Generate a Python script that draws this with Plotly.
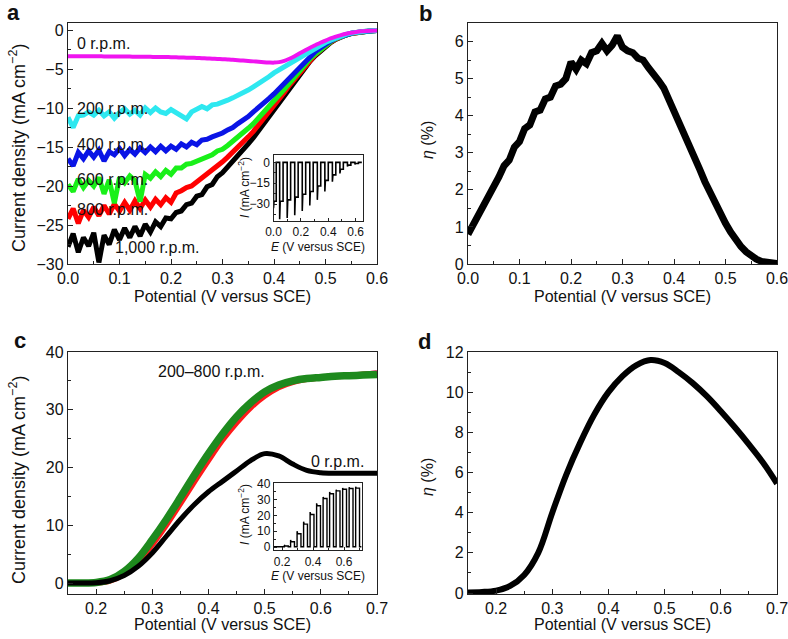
import plotly.graph_objects as go

# ---- panel a: LSV at different rotation rates (V vs SCE, mA cm-2) ----
potential_a = [round(0.01 * i, 2) for i in range(61)]

j_a_0rpm = [-3.35, -3.35, -3.35, -3.36, -3.36, -3.37, -3.37, -3.38, -3.38, -3.39,
            -3.40, -3.40, -3.41, -3.42, -3.42, -3.43, -3.44, -3.45, -3.46, -3.47,
            -3.48, -3.50, -3.52, -3.54, -3.56, -3.58, -3.61, -3.64, -3.67, -3.70,
            -3.74, -3.78, -3.82, -3.87, -3.92, -3.97, -4.02, -4.07, -4.12, -4.16,
            -4.18, -4.12, -3.95, -3.68, -3.35, -2.98, -2.62, -2.27, -1.95, -1.63,
            -1.35, -1.08, -0.85, -0.65, -0.48, -0.35, -0.25, -0.17, -0.12, -0.08, -0.06]
j_a_200rpm = [-11.2, -12.5, -11.0, -10.9, -10.5, -10.9, -10.3, -11.0, -10.5, -11.3,
              -10.6, -10.1, -10.8, -10.3, -10.9, -10.0, -10.6, -10.0, -10.5, -10.7,
              -10.2, -10.6, -10.9, -11.4, -10.5, -10.2, -9.8, -10.1, -9.6, -9.5,
              -9.3, -9.0, -8.7, -8.4, -8.1, -7.7, -7.3, -6.9, -6.5, -6.0,
              -5.5, -5.1, -4.7, -4.3, -3.9, -3.5, -3.1, -2.7, -2.3, -2.0,
              -1.6, -1.3, -1.0, -0.75, -0.55, -0.4, -0.28, -0.2, -0.14, -0.1, -0.07]
j_a_400rpm = [-16.5, -17.4, -15.7, -16.5, -15.5, -16.3, -15.4, -16.8, -15.6, -16.0,
              -15.2, -16.1, -15.3, -15.9, -15.1, -15.7, -15.0, -15.6, -14.9, -15.5,
              -14.9, -15.3, -14.6, -15.0, -14.4, -14.7, -14.1, -14.0, -13.7, -13.5,
              -13.2, -12.8, -12.5, -12.0, -11.6, -11.1, -10.5, -10.0, -9.4, -8.8,
              -8.2, -7.5, -6.8, -6.1, -5.4, -4.7, -4.0, -3.4, -2.8, -2.3,
              -1.8, -1.4, -1.05, -0.8, -0.58, -0.42, -0.3, -0.21, -0.15, -0.1, -0.07]
j_a_600rpm = [-19.8, -20.7, -19.1, -20.2, -19.3, -20.0, -18.9, -21.0, -19.2, -22.2,
              -18.9, -19.6, -18.7, -19.3, -22.0, -18.5, -19.0, -18.2, -18.8, -18.0,
              -18.5, -17.7, -17.7, -17.2, -17.1, -16.8, -16.6, -16.2, -16.0, -15.5,
              -15.3, -14.8, -14.3, -13.8, -13.2, -12.6, -12.0, -11.3, -10.6, -9.9,
              -9.2, -8.4, -7.6, -6.8, -6.0, -5.2, -4.4, -3.7, -3.1, -2.5,
              -1.95, -1.5, -1.1, -0.82, -0.6, -0.43, -0.31, -0.22, -0.15, -0.1, -0.07]
j_a_800rpm = [-24.2, -22.9, -24.8, -23.1, -24.0, -22.7, -23.8, -22.5, -23.6, -22.3,
              -23.2, -22.1, -23.1, -21.9, -22.9, -21.8, -22.7, -21.7, -22.4, -21.5,
              -22.1, -20.9, -20.6, -20.2, -20.0, -19.5, -19.1, -18.5, -18.1, -17.4,
              -16.9, -16.3, -15.7, -15.0, -14.4, -13.7, -13.0, -12.2, -11.4, -10.6,
              -9.8, -8.9, -8.0, -7.1, -6.3, -5.5, -4.7, -3.9, -3.2, -2.6,
              -2.0, -1.55, -1.15, -0.85, -0.62, -0.45, -0.32, -0.22, -0.15, -0.1, -0.07]
j_a_1000rpm = [-27.8, -26.1, -28.5, -26.6, -27.7, -26.0, -29.8, -26.3, -27.5, -25.6,
               -26.9, -25.4, -26.6, -25.2, -26.4, -24.9, -25.9, -24.6, -25.2, -24.1,
               -24.2, -23.4, -23.2, -22.4, -22.2, -21.3, -21.1, -20.1, -19.8, -18.8,
               -18.3, -17.6, -16.9, -16.1, -15.3, -14.6, -13.8, -12.9, -12.0, -11.1,
               -10.3, -9.3, -8.4, -7.4, -6.5, -5.7, -4.8, -4.0, -3.3, -2.7,
               -2.1, -1.6, -1.2, -0.88, -0.64, -0.46, -0.33, -0.23, -0.16, -0.1, -0.07]

# inset a: chopped light, one row per light pulse
pulse_a_on = [0.000, 0.045, 0.100, 0.155, 0.210, 0.265, 0.320, 0.375, 0.430, 0.485, 0.540, 0.595]
pulse_a_off = [0.020, 0.070, 0.125, 0.180, 0.235, 0.290, 0.345, 0.400, 0.455, 0.510, 0.565, 0.620]
pulse_a_spike = [-33, -41, -40, -38, -35, -31, -27, -21, -14, -8, -3, -1.5]
pulse_a_level = [-28, -28, -27, -25, -23, -21, -17, -13, -9, -5, -2, -0.8]

# ---- panel b: efficiency ----
eta_b = [0.80, 1.05, 1.30, 1.55, 1.80, 2.05, 2.35, 2.65, 2.80, 3.15,
         3.30, 3.65, 3.75, 4.10, 4.15, 4.45, 4.50, 4.80, 4.85, 5.00,
         5.45, 5.25, 5.50, 5.40, 5.70, 5.75, 5.95, 5.75, 5.90, 6.15,
         5.85, 5.75, 5.70, 5.55, 5.50, 5.30, 5.15, 4.95, 4.75, 4.45,
         4.15, 3.85, 3.50, 3.18, 2.85, 2.55, 2.22, 1.92, 1.62, 1.35,
         1.10, 0.86, 0.65, 0.47, 0.33, 0.21, 0.13, 0.07, 0.04, 0.02, 0.01]

# ---- panel c: LSV, 0 r.p.m. and 200-800 r.p.m. ----
potential_c = [0.150, 0.175, 0.200, 0.225, 0.250, 0.275, 0.300, 0.325, 0.350, 0.375, 0.400, 0.425,
               0.450, 0.475, 0.500, 0.525, 0.550, 0.575, 0.600, 0.625, 0.650, 0.675, 0.700]
j_c_0rpm = [0.0, 0.0, 0.05, 0.4, 1.3, 2.9, 5.2, 8.1, 11.0, 13.6, 15.8, 17.6,
            19.4, 21.2, 22.4, 22.0, 20.6, 19.5, 19.1, 19.0, 19.0, 19.0, 19.0]
j_c_200rpm = [0.0, 0.0, 0.07, 0.5, 1.8, 4.0, 7.1, 10.6, 14.3, 18.2, 21.9, 25.3,
              28.3, 30.8, 32.7, 34.1, 34.9, 35.4, 35.7, 35.9, 36.1, 36.3, 36.6]
j_c_400rpm = [0.0, 0.0, 0.07, 0.5, 1.8, 4.0, 7.0, 10.5, 14.2, 18.1, 21.8, 25.2,
              28.2, 30.7, 32.7, 34.0, 34.8, 35.3, 35.6, 35.8, 35.9, 36.0, 36.1]
j_c_600rpm = [0.0, 0.0, 0.05, 0.4, 1.6, 3.7, 6.7, 10.1, 13.8, 17.6, 21.3, 24.8,
              27.8, 30.4, 32.4, 33.9, 34.8, 35.3, 35.6, 35.8, 35.9, 36.1, 36.3]
j_c_800rpm = [0.0, 0.0, 0.1, 0.6, 2.0, 4.3, 7.5, 11.0, 14.8, 18.7, 22.4, 25.8,
              28.8, 31.2, 33.1, 34.3, 35.0, 35.4, 35.6, 35.8, 35.9, 36.0, 36.1]

# inset c: chopped light
pulse_c_on = [0.215, 0.255, 0.297, 0.339, 0.381, 0.423, 0.465, 0.507, 0.549, 0.591, 0.633, 0.675]
pulse_c_off = [0.240, 0.280, 0.322, 0.364, 0.406, 0.448, 0.490, 0.532, 0.574, 0.616, 0.658, 0.700]
pulse_c_spike = [1.5, 4.5, 10, 16, 22, 27.5, 31.5, 34.5, 36, 37, 37.5, 37.8]
pulse_c_level = [0.8, 3.5, 8.5, 14.5, 20.5, 26, 30.5, 33.5, 35.3, 36.3, 36.8, 37.0]

# ---- panel d: efficiency ----
eta_d = [0.03, 0.05, 0.12, 0.35, 0.9, 2.0, 4.0, 5.9, 7.5, 8.9, 10.0, 10.8,
         11.35, 11.6, 11.45, 11.0, 10.45, 9.8, 9.05, 8.25, 7.4, 6.5, 5.45]

FONT = "Liberation Sans, Arial, Helvetica, sans-serif"
AX = "#222222"
W, H = 788, 639


def px(x):
    return x / W


def py(y):
    return 1 - y / H


def chopped(on, off, spike, level, dark, x_start, x_end):
    xs, ys = [x_start], [dark]
    for x0, x1, s, l in zip(on, off, spike, level):
        xs += [x0, x0, x0 + 0.004, x1, x1]
        ys += [dark, s, l, l, dark]
    xs.append(x_end)
    ys.append(dark)
    return xs, ys


def axis(rng, dtick, minor, fmt, domain, anchor, size=16, ticklen=5, tick0=0):
    return dict(range=rng, domain=domain, anchor=anchor, dtick=dtick, tick0=tick0,
                ticks="inside", ticklen=ticklen, tickwidth=1.2, tickcolor=AX,
                showline=True, linecolor=AX, linewidth=1.4, mirror=True,
                showgrid=False, zeroline=False, tickformat=fmt, ticklabeloverflow="allow",
                tickfont=dict(family=FONT, size=size, color="#111"),
                minor=dict(dtick=minor, tick0=0, ticks="inside", ticklen=max(ticklen - 2, 2),
                           tickcolor=AX, tickwidth=1.0, showgrid=False))


fig = go.Figure()

# panel a curves
for y, c in [(j_a_1000rpm, "#000000"), (j_a_800rpm, "#ff0000"), (j_a_600rpm, "#19f019"),
             (j_a_400rpm, "#0a14e6"), (j_a_200rpm, "#2ee8f0")]:
    fig.add_trace(go.Scatter(x=potential_a, y=y, mode="lines", line=dict(color=c, width=5),
                             xaxis="x", yaxis="y", showlegend=False))
fig.add_trace(go.Scatter(x=potential_a, y=j_a_0rpm, mode="lines",
                         line=dict(color="#f014f0", width=4, shape="spline"),
                         xaxis="x", yaxis="y", showlegend=False))

# panel b
fig.add_trace(go.Scatter(x=potential_a, y=eta_b, mode="lines", line=dict(color="#000", width=7),
                         xaxis="x2", yaxis="y2", showlegend=False))

# panel c
for y, c, w in [(j_c_200rpm, "#ff33ff", 3), (j_c_600rpm, "#ff1a1a", 6),
                (j_c_400rpm, "#6a3cc8", 2.5), (j_c_800rpm, "#1e8a1e", 7.5)]:
    fig.add_trace(go.Scatter(x=potential_c, y=y, mode="lines", line=dict(color=c, width=w, shape="spline"),
                             xaxis="x3", yaxis="y3", showlegend=False))
fig.add_trace(go.Scatter(x=potential_c, y=j_c_0rpm, mode="lines",
                         line=dict(color="#000", width=5, shape="spline"),
                         xaxis="x3", yaxis="y3", showlegend=False))

# panel d
fig.add_trace(go.Scatter(x=potential_c, y=eta_d, mode="lines",
                         line=dict(color="#000", width=6, shape="spline"),
                         xaxis="x4", yaxis="y4", showlegend=False))

# insets
xa, ya = chopped(pulse_a_on, pulse_a_off, pulse_a_spike, pulse_a_level, 0.0, 0.0, 0.645)
fig.add_trace(go.Scatter(x=xa, y=ya, mode="lines", line=dict(color="#000", width=1.6),
                         xaxis="x5", yaxis="y5", showlegend=False))
xc, yc = chopped(pulse_c_on, pulse_c_off, pulse_c_spike, pulse_c_level, 0.3, 0.148, 0.712)
fig.add_trace(go.Scatter(x=xc, y=yc, mode="lines", line=dict(color="#000", width=1.4),
                         xaxis="x6", yaxis="y6", showlegend=False))

dx_left = [px(68), px(377)]
dx_right = [px(468), px(777)]
dy_top = [py(264), py(23)]
dy_bot = [py(594), py(352)]
inset_a_x = [px(273.5), px(362.5)]
inset_a_y = [py(220.7), py(155)]
inset_c_x = [px(274), px(362)]
inset_c_y = [py(550), py(483)]

fig.update_layout(
    width=W, height=H, margin=dict(l=0, r=0, t=0, b=0, autoexpand=False),
    paper_bgcolor="white", plot_bgcolor="white",
    xaxis=axis([0, 0.6], 0.1, 0.05, ".1f", dx_left, "y"),
    yaxis=axis([-30, 0.9], 5, 2.5, "d", dy_top, "x"),
    xaxis2=axis([0, 0.6], 0.1, 0.05, ".1f", dx_right, "y2"),
    yaxis2=axis([0, 6.5], 1, 0.5, "d", dy_top, "x2"),
    xaxis3=axis([0.15, 0.7], 0.1, 0.05, ".1f", dx_left, "y3"),
    yaxis3=axis([-1.9, 40], 10, 5, "d", dy_bot, "x3"),
    xaxis4=axis([0.15, 0.7], 0.1, 0.05, ".1f", dx_right, "y4"),
    yaxis4=axis([-0.05, 12], 2, 1, "d", dy_bot, "x4"),
    xaxis5=axis([0, 0.65], 0.2, 0.1, ".1f", inset_a_x, "y5", size=12, ticklen=3),
    yaxis5=axis([-42, 5.3], 15, 7.5, "d", inset_a_y, "x5", size=12, ticklen=3),
    xaxis6=axis([0.148, 0.716], 0.2, 0.1, ".1f", inset_c_x, "y6", size=12, ticklen=3),
    yaxis6=axis([-1.7, 40.2], 10, 5, "d", inset_c_y, "x6", size=12, ticklen=3),
)

# white backgrounds for the insets so the main curves do not show through
fig.add_shape(type="rect", xref="x5", yref="y5", x0=0, x1=0.65, y0=-42, y1=5.3,
              fillcolor="white", line=dict(width=0), layer="below")
fig.add_shape(type="rect", xref="x6", yref="y6", x0=0.148, x1=0.716, y0=-1.7, y1=40.2,
              fillcolor="white", line=dict(width=0), layer="below")


def note(text, x, y, size=16, angle=0, xanchor="center", xref="paper", yref="paper", bold=False):
    fig.add_annotation(text=f"<b>{text}</b>" if bold else text, x=x, y=y, xref=xref, yref=yref,
                       showarrow=False, textangle=angle, xanchor=xanchor, yanchor="middle",
                       font=dict(family=FONT, size=size, color="#111"))


# panel letters
note("a", px(13.5), py(13), size=22, bold=True)
note("b", px(425), py(14), size=22, bold=True)
note("c", px(20), py(340), size=22, bold=True)
note("d", px(424.5), py(341), size=22, bold=True)

# axis titles
for xc_, yc_ in [(222, 296), (622, 296), (222, 624.5), (622, 624.5)]:
    note("Potential (V versus SCE)", px(xc_), py(yc_), size=16)
note("Current density (mA cm<sup>−2</sup>)", px(17), py(148), size=18, angle=-90)
note("Current density (mA cm<sup>−2</sup>)", px(17), py(480), size=18, angle=-90)
note("<i>η</i> (%)", px(427), py(140), angle=-90)
note("<i>η</i> (%)", px(427), py(477), angle=-90)

# inset titles
note("<i>I</i> (mA cm<sup>−2</sup>)", px(244), py(188), size=12, angle=-90)
note("<i>E</i> (V versus SCE)", px(318), py(246.5), size=12)
note("<i>I</i> (mA cm<sup>−2</sup>)", px(244), py(515), size=12, angle=-90)
note("<i>E</i> (V versus SCE)", px(318), py(575.5), size=12)

# curve labels, panel a
for label, y in [("0 r.p.m.", -1.7), ("200 r.p.m.", -10.0), ("400 r.p.m.", -14.7),
                 ("600 r.p.m.", -19.2), ("800 r.p.m.", -23.0)]:
    note(label, 0.013, y, xanchor="left", xref="x", yref="y")
note("1,000 r.p.m.", 0.087, -27.9, xanchor="left", xref="x", yref="y")

# curve labels, panel c
note("200–800 r.p.m.", 0.406, 36.6, xref="x3", yref="y3")
note("0 r.p.m.", 0.629, 21.0, xref="x3", yref="y3")

# drop the default 8 px page margin so the figure sits at the window corner
fig.write_html("out.html", config={"displayModeBar": False},
               post_script="document.body.style.margin='0';document.body.style.overflow='hidden';")
